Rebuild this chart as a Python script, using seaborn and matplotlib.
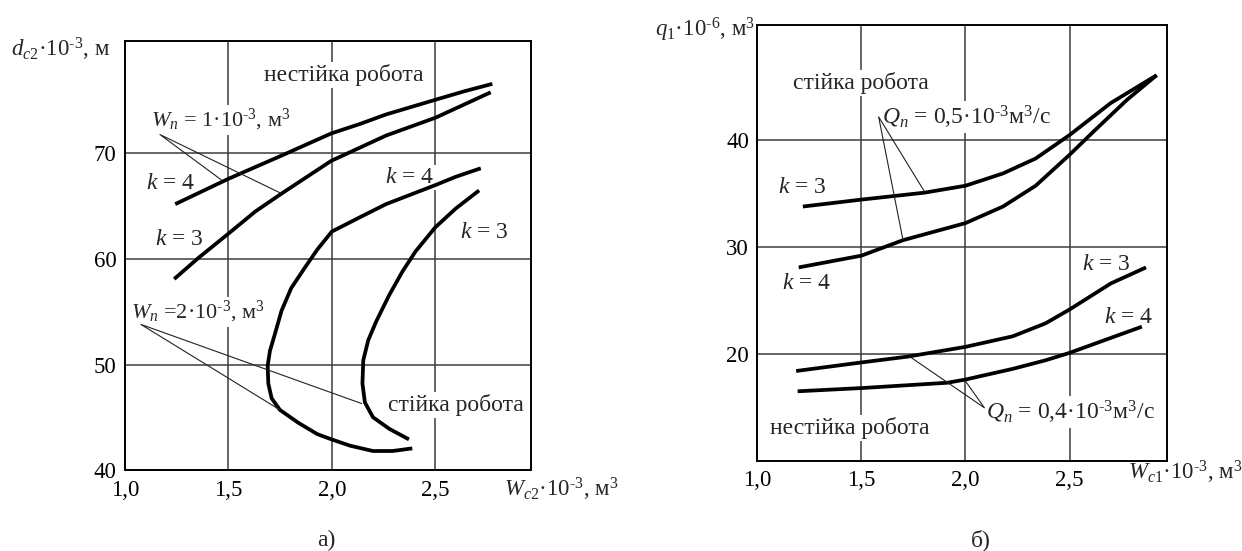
import numpy as np
import pandas as pd
import matplotlib
matplotlib.use("Agg")
import matplotlib.pyplot as plt
import seaborn as sns

# ---------------- data ----------------
# panel a) d_c2 vs W_c2
a_k4_w1_x = [1.243, 1.50, 1.757, 1.997, 2.136, 2.262, 2.502, 2.641, 2.776]
a_k4_w1_y = [65.2, 67.6, 69.8, 71.9, 72.8, 73.7, 75.1, 75.9, 76.6]
a_k3_w1_x = [1.238, 1.355, 1.50, 1.63, 1.757, 1.997, 2.262, 2.502, 2.768]
a_k3_w1_y = [58.1, 60.1, 62.4, 64.5, 66.2, 69.3, 71.7, 73.4, 75.8]
a_k4_w2_x = [2.72, 2.60, 2.50, 2.262, 2.13, 2.00, 1.93, 1.867, 1.804, 1.757,
             1.725, 1.701, 1.69, 1.693, 1.709, 1.749, 1.836, 1.93, 1.999,
             2.089, 2.199, 2.294, 2.389]
a_k4_w2_y = [68.6, 67.8, 67.0, 65.2, 63.9, 62.6, 60.9, 59.1, 57.25, 55.1,
             52.9, 51.3, 49.9, 48.2, 46.8, 45.7, 44.5, 43.4, 42.9,
             42.3, 41.8, 41.8, 42.05]
a_k3_w2_x = [2.712, 2.60, 2.50, 2.404, 2.341, 2.278, 2.215, 2.176, 2.152,
             2.148, 2.16, 2.199, 2.278, 2.373]
a_k3_w2_y = [66.5, 64.8, 63.0, 60.7, 58.8, 56.6, 54.1, 52.3, 50.4,
             48.2, 46.4, 45.0, 43.9, 42.9]
a_lead_w1_x = [1.466, 1.169, 1.757]
a_lead_w1_y = [67.5, 71.8, 66.2]
a_lead_w2_x = [1.749, 1.077, 2.144]
a_lead_w2_y = [45.7, 53.8, 46.3]

# panel б) q_1 vs W_c1
b_k3_q05_x = [1.219, 1.50, 1.803, 2.00, 2.18, 2.337, 2.50, 2.698, 2.918]
b_k3_q05_y = [33.8, 34.45, 35.1, 35.75, 36.9, 38.3, 40.5, 43.5, 46.1]
b_k4_q05_x = [1.199, 1.50, 1.70, 2.00, 2.18, 2.337, 2.50, 2.619, 2.776, 2.918]
b_k4_q05_y = [28.1, 29.2, 30.65, 32.25, 33.8, 35.75, 38.65, 40.9, 43.8, 46.1]
b_k3_q04_x = [1.187, 1.50, 1.724, 2.00, 2.227, 2.384, 2.50, 2.698, 2.867]
b_k3_q04_y = [18.4, 19.2, 19.75, 20.66, 21.65, 22.86, 24.16, 26.6, 28.1]
b_k4_q04_x = [1.194, 1.50, 1.913, 2.00, 2.227, 2.384, 2.50, 2.698, 2.847]
b_k4_q04_y = [16.5, 16.8, 17.3, 17.6, 18.6, 19.4, 20.1, 21.5, 22.55]
b_lead_q05_x = [1.803, 1.583, 1.70]
b_lead_q05_y = [35.2, 42.2, 30.65]
b_lead_q04_x = [1.732, 2.091, 2.00]
b_lead_q04_y = [19.75, 14.95, 17.45]

x_ticks = [1.0, 1.5, 2.0, 2.5]
x_tick_labels = ["1,0", "1,5", "2,0", "2,5"]
a_y_ticks = [40, 50, 60, 70]
b_y_ticks = [20, 30, 40]

# ---------------- style ----------------
sns.set_style("white")
plt.rcParams["font.family"] = ["Liberation Serif", "DejaVu Serif"]
plt.rcParams["mathtext.fontset"] = "custom"
plt.rcParams["mathtext.rm"] = "Liberation Serif"
plt.rcParams["mathtext.it"] = "Liberation Serif:italic"
plt.rcParams["mathtext.bf"] = "Liberation Serif:bold"

TXT = 17
WTXT = 16
AXT = 16.5
TICK = 16.5
GRID_C = "#3c3c3c"
HY = "\u2010"  # short hyphen used in the superscript exponents

fig = plt.figure(figsize=(12.42, 5.51), dpi=100)
ax1 = fig.add_axes([0.1006, 0.147, 0.3273, 0.7793])
ax2 = fig.add_axes([0.6097, 0.1639, 0.3303, 0.7907])


def curve(ax, xs, ys, lw=2.7):
    df = pd.DataFrame({"x": xs, "y": ys})
    sns.lineplot(data=df, x="x", y="y", ax=ax, sort=False, estimator=None,
                 color="black", lw=lw, zorder=4, solid_capstyle="butt",
                 solid_joinstyle="round")


def lead(ax, xs, ys):
    df = pd.DataFrame({"x": xs, "y": ys})
    sns.lineplot(data=df, x="x", y="y", ax=ax, sort=False, estimator=None,
                 color="#222222", lw=0.8, zorder=4)


def label(ax, x, y, s, ha="left", size=TXT):
    ax.text(x, y, s, fontsize=size, ha=ha, va="baseline", zorder=3,
            bbox=dict(facecolor="white", edgecolor="none", pad=1.5))


def frame(ax, xlim, ylim, yticks):
    ax.set_xlim(*xlim)
    ax.set_ylim(*ylim)
    ax.set_xticks(x_ticks)
    ax.set_xticklabels(x_tick_labels)
    ax.set_yticks(yticks)
    ax.set_yticklabels([str(v) for v in yticks])
    ax.set_xlabel("")
    ax.set_ylabel("")
    ax.set_axisbelow(True)
    ax.grid(True, color=GRID_C, lw=1.1, zorder=0)
    for sp in ax.spines.values():
        sp.set_color("black")
        sp.set_linewidth(1.4)
        sp.set_zorder(5)
    ax.tick_params(axis="both", length=0, labelsize=TICK, colors="black")
    ax.tick_params(axis="x", pad=7)
    ax.tick_params(axis="y", pad=6)


exp3 = "10$^{" + HY + "3}$"
exp6 = "10$^{" + HY + "6}$"

# ---------------- panel a ----------------
curve(ax1, a_k4_w1_x, a_k4_w1_y)
curve(ax1, a_k3_w1_x, a_k3_w1_y)
curve(ax1, a_k4_w2_x, a_k4_w2_y)
curve(ax1, a_k3_w2_x, a_k3_w2_y)
lead(ax1, a_lead_w1_x, a_lead_w1_y)
lead(ax1, a_lead_w2_x, a_lead_w2_y)
frame(ax1, (1.0, 2.965), (40, 80.7), a_y_ticks)

label(ax1, 2.057, 76.9, "нестійка робота", ha="center")
label(ax1, 1.125, 72.6, "$W_n$ = 1·" + exp3 + ", м$^3$", size=WTXT)
label(ax1, 1.103, 66.6, "$k$ = 4")
label(ax1, 1.146, 61.3, "$k$ = 3")
label(ax1, 2.256, 67.2, "$k$ = 4")
label(ax1, 2.62, 62.0, "$k$ = 3")
label(ax1, 1.03, 54.4, "$W_n$ =2·" + exp3 + ", м$^3$", size=WTXT)
label(ax1, 2.27, 45.6, "стійка робота")

# ---------------- panel б ----------------
curve(ax2, b_k3_q05_x, b_k3_q05_y)
curve(ax2, b_k4_q05_x, b_k4_q05_y)
curve(ax2, b_k3_q04_x, b_k3_q04_y)
curve(ax2, b_k4_q04_x, b_k4_q04_y)
lead(ax2, b_lead_q05_x, b_lead_q05_y)
lead(ax2, b_lead_q04_x, b_lead_q04_y)
frame(ax2, (1.0, 2.97), (10, 50.8), b_y_ticks)

label(ax2, 1.17, 44.8, "стійка робота")
label(ax2, 1.60, 41.5, "$Q_n$ = 0,5·" + exp3 + "м$^3$/с")
label(ax2, 1.10, 35.1, "$k$ = 3")
label(ax2, 1.117, 26.05, "$k$ = 4")
label(ax2, 2.56, 27.9, "$k$ = 3")
label(ax2, 2.666, 22.9, "$k$ = 4")
label(ax2, 2.10, 13.9, "$Q_n$ = 0,4·" + exp3 + "м$^3$/с")
label(ax2, 1.06, 12.5, "нестійка робота")

# ---------------- axis titles & panel marks ----------------
fig.text(0.0086, 0.897, "$d_{c2}$·" + exp3 + ", м", fontsize=AXT, ha="left", va="baseline")
fig.text(0.4055, 0.0986, "$W_{c2}$·" + exp3 + ", м$^3$", fontsize=AXT, ha="left", va="baseline")
fig.text(0.5276, 0.933, "$q_1$·" + exp6 + ", м$^3$", fontsize=AXT, ha="left", va="baseline")
fig.text(0.908, 0.130, "$W_{c1}$·" + exp3 + ", м$^3$", fontsize=AXT, ha="left", va="baseline")
fig.text(0.263, 0.02, "а)", fontsize=TXT, ha="center", va="center")
fig.text(0.7897, 0.02, "б)", fontsize=TXT, ha="center", va="center")

fig.savefig("out.png", dpi=100)
